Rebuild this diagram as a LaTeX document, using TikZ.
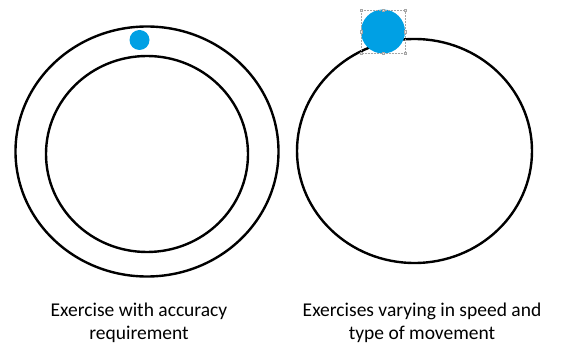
\documentclass[tikz,border=0pt]{standalone}
\usepackage{fontspec}
\setmainfont{Carlito}
\usepackage{xcolor}
\usetikzlibrary{positioning}
\definecolor{dotblue}{RGB}{0,160,228}

\begin{document}
\begin{tikzpicture}[
    x=1pt, y=-1pt,
    ring/.style={draw=black, line width=2.4pt},
    marker/.style={fill=dotblue},
    handle/.style={draw=gray!70, fill=gray!15, line width=0.3pt},
    caption/.style={align=center, font=\fontsize{19.5}{23}\selectfont}
]
    \useasboundingbox (0,0) rectangle (562,347);

    % Left: track with an inner boundary
    \draw[ring] (147,151.5) ellipse [x radius=131.5pt, y radius=125pt];
    \draw[ring] (147,154) ellipse [x radius=101pt, y radius=98pt];
    \fill[marker] (139.5,40) circle [radius=10pt];

    % Right: single track, larger marker sitting on it
    \draw[ring] (414.5,151) ellipse [x radius=117.5pt, y radius=112pt];
    \fill[marker] (383,31.5) circle [radius=22pt];

    % selection frame around the marker
    \draw[gray!70, densely dotted, line width=0.5pt] (361,10) rectangle (405,53);
    \foreach \hx/\hy in {361/10, 383/10, 405/10, 361/31.5, 405/31.5, 361/53, 383/53, 405/53}
        \draw[handle] (\hx-1.2,\hy-1.2) rectangle (\hx+1.2,\hy+1.2);

    % Captions
    \node[caption] (accuracy) at (139,323) {Exercise with accuracy\\requirement};
    \node[caption] (speed) at (422,323) {Exercises varying in speed and\\type of movement};
\end{tikzpicture}
\end{document}
